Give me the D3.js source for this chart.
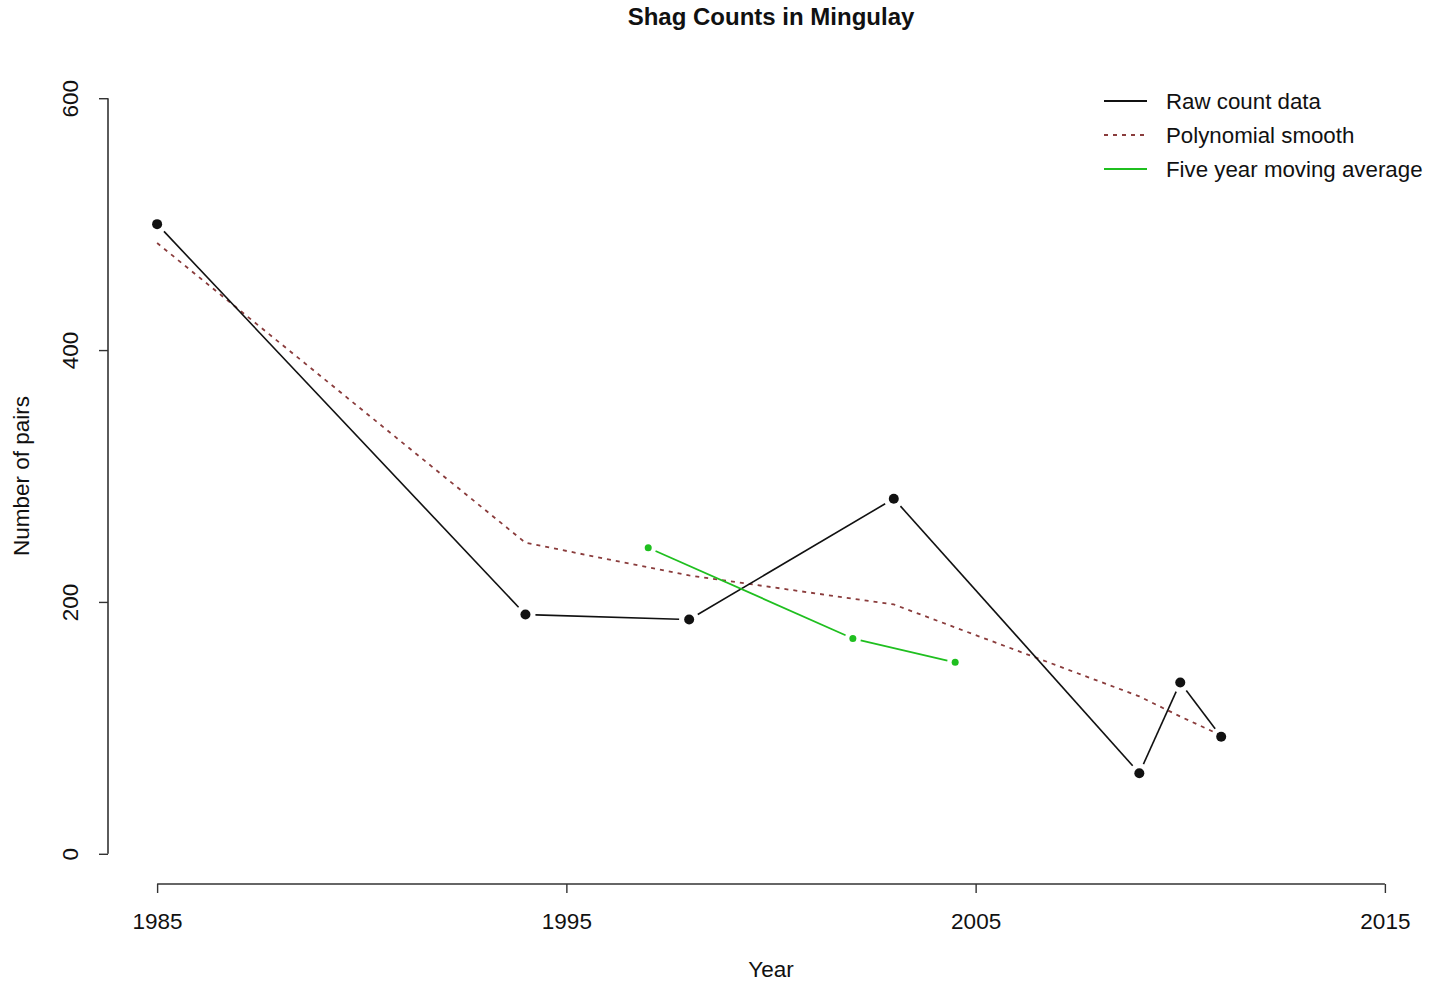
<!DOCTYPE html>
<html>
<head>
<meta charset="utf-8">
<script src="https://cdn.jsdelivr.net/npm/d3@7"></script>
<style>
  html, body { margin: 0; padding: 0; background: #fff; }
  svg { display: block; }
  text { font-family: "Liberation Sans", Arial, Helvetica, sans-serif; fill: #111; }
</style>
</head>
<body>
<svg id="chart" width="1429" height="985"></svg>
<script>
// ---- data ----
const rawYears  = [1985, 1994, 1998, 2003, 2009, 2010, 2011];
const rawCounts = [500, 190, 186, 282, 64, 136, 93];
const smoothValues = [485, 247, 221, 198, 125, 109, 94];
const maYears  = [1997, 2002, 2004.5];
const maValues = [243, 171, 152];
const xTicks = [1985, 1995, 2005, 2015];
const yTicks = [0, 200, 400, 600];
const legendLabels = ["Raw count data", "Polynomial smooth", "Five year moving average"];

const svg = d3.select("#chart");

// R-style usr ranges (4% extension)
const x = d3.scaleLinear().domain([1983.8, 2016.2]).range([108, 1434]);
const y = d3.scaleLinear().domain([-24, 624]).range([884, 68]);

const black = "#111", smoothCol = "#8a3c3c", green = "#1fbf1f";

// title
svg.append("text").attr("x", 771).attr("y", 25).attr("text-anchor", "middle")
  .attr("font-size", 24).attr("font-weight", "bold").text("Shag Counts in Mingulay");

// x axis
const xAxis = d3.axisBottom(x).tickValues(xTicks).tickFormat(d3.format("d")).tickSizeInner(9).tickSizeOuter(0).tickPadding(20);
const gx = svg.append("g").attr("transform", `translate(0,${y(-24)})`).call(xAxis);
gx.select(".domain").attr("d", `M${x(1985)},0H${x(2015)}`).attr("stroke", "#333").attr("stroke-width", 1.6);
gx.selectAll(".tick line").attr("stroke", "#333").attr("stroke-width", 1.4);
gx.selectAll(".tick text").attr("font-size", 22.5).attr("fill", "#111").attr("font-family", "Liberation Sans, Arial, sans-serif");

// y axis
const yAxis = d3.axisLeft(y).tickValues(yTicks).tickFormat(d3.format("d")).tickSizeInner(9).tickSizeOuter(0).tickPadding(0);
const gy = svg.append("g").attr("transform", `translate(${x(1983.8)},0)`).call(yAxis);
gy.select(".domain").attr("d", `M0,${y(0)}V${y(600)}`).attr("stroke", "#333").attr("stroke-width", 1.6);
gy.selectAll(".tick line").attr("stroke", "#333").attr("stroke-width", 1.4);
gy.selectAll(".tick text")
  .attr("font-size", 22.5).attr("fill", "#111").attr("font-family", "Liberation Sans, Arial, sans-serif")
  .attr("x", null).attr("dy", null)
  .attr("text-anchor", "middle")
  .attr("transform", "translate(-30,0) rotate(-90)");

// axis titles
svg.append("text").attr("x", 771).attr("y", 977).attr("text-anchor", "middle").attr("font-size", 22.5).text("Year");
svg.append("text").attr("transform", `translate(29,476) rotate(-90)`).attr("text-anchor", "middle").attr("font-size", 22.5).text("Number of pairs");

// helper: R type="b" gapped segments
function gappedSegments(xs, ys, gap) {
  const segs = [];
  for (let i = 0; i < xs.length - 1; i++) {
    const x0 = x(xs[i]), y0 = y(ys[i]), x1 = x(xs[i+1]), y1 = y(ys[i+1]);
    const dx = x1 - x0, dy = y1 - y0, L = Math.hypot(dx, dy);
    if (L <= 2 * gap) continue;
    const ux = dx / L, uy = dy / L;
    segs.push([[x0 + ux*gap, y0 + uy*gap], [x1 - ux*gap, y1 - uy*gap]]);
  }
  return segs;
}
const line = d3.line();

// polynomial smooth (dashed)
svg.append("path")
  .datum(rawYears.map((yr, i) => [x(yr), y(smoothValues[i])]))
  .attr("d", line).attr("fill", "none").attr("stroke", smoothCol)
  .attr("stroke-width", 1.8).attr("stroke-dasharray", "4,5");

// raw counts
svg.append("g").selectAll("path").data(gappedSegments(rawYears, rawCounts, 10)).join("path")
  .attr("d", line).attr("fill", "none").attr("stroke", black).attr("stroke-width", 1.6);
svg.append("g").selectAll("circle").data(rawYears).join("circle")
  .attr("cx", d => x(d)).attr("cy", (d, i) => y(rawCounts[i])).attr("r", 5).attr("fill", black);

// moving average
svg.append("g").selectAll("path").data(gappedSegments(maYears, maValues, 8)).join("path")
  .attr("d", line).attr("fill", "none").attr("stroke", green).attr("stroke-width", 1.8);
svg.append("g").selectAll("circle").data(maYears).join("circle")
  .attr("cx", d => x(d)).attr("cy", (d, i) => y(maValues[i])).attr("r", 3.5).attr("fill", green);

// legend
const legendStyles = [
  { stroke: black, dash: null },
  { stroke: smoothCol, dash: "4,5" },
  { stroke: green, dash: null }
];
const lg = svg.append("g");
legendLabels.forEach((lab, i) => {
  const ly = 101 + i * 34;
  lg.append("line").attr("x1", 1104).attr("x2", 1147).attr("y1", ly).attr("y2", ly)
    .attr("stroke", legendStyles[i].stroke).attr("stroke-width", 1.8)
    .attr("stroke-dasharray", legendStyles[i].dash);
  lg.append("text").attr("x", 1166).attr("y", ly + 8).attr("font-size", 22.3).text(lab);
});
</script>
</body>
</html>
